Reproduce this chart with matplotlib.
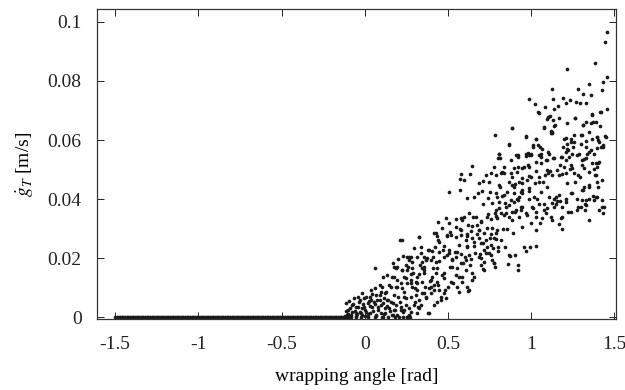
import matplotlib
matplotlib.use("Agg")
import matplotlib.pyplot as plt

plt.rcParams['font.family'] = ['Liberation Serif', 'DejaVu Serif']
plt.rcParams['mathtext.fontset'] = 'stix'

# points lying on zero (slack phase)
zero_x = [-1.50, -1.49, -1.48, -1.47, -1.46, -1.45, -1.44, -1.43, -1.42, -1.41,
          -1.40, -1.39, -1.38, -1.37, -1.36, -1.35, -1.34, -1.33, -1.32, -1.31,
          -1.30, -1.29, -1.28, -1.27, -1.26, -1.25, -1.24, -1.23, -1.22, -1.21,
          -1.20, -1.19, -1.18, -1.17, -1.16, -1.15, -1.14, -1.13, -1.12, -1.11,
          -1.10, -1.09, -1.08, -1.07, -1.06, -1.05, -1.04, -1.03, -1.02, -1.01,
          -1.00, -0.99, -0.98, -0.97, -0.96, -0.95, -0.94, -0.93, -0.92, -0.91,
          -0.90, -0.89, -0.88, -0.87, -0.86, -0.85, -0.84, -0.83, -0.82, -0.81,
          -0.80, -0.79, -0.78, -0.77, -0.76, -0.75, -0.74, -0.73, -0.72, -0.71,
          -0.70, -0.69, -0.68, -0.67, -0.66, -0.65, -0.64, -0.63, -0.62, -0.61,
          -0.60, -0.59, -0.58, -0.57, -0.56, -0.55, -0.54, -0.53, -0.52, -0.51,
          -0.50, -0.49, -0.48, -0.47, -0.46, -0.45, -0.44, -0.43, -0.42, -0.41,
          -0.40, -0.39, -0.38, -0.37, -0.36, -0.35, -0.34, -0.33, -0.32, -0.31,
          -0.30, -0.29, -0.28, -0.27, -0.26, -0.25, -0.24, -0.23, -0.22, -0.21,
          -0.20, -0.19, -0.18, -0.17, -0.16, -0.15, -0.14, -0.13, -0.12, -0.11,
          -0.10, -0.08, -0.05, -0.02, 0.02, 0.06, 0.11, 0.14, 0.18, 0.23, 0.27]
zero_y = [0.0] * len(zero_x)

# sliding cloud, first reading (whole chart)
angle_a = [1.458, 1.446, 1.386, 1.216, 1.458, 1.434, 1.424, 1.350, 1.281, 1.123,
           1.360, 1.314, 1.190, 1.132, 0.989, 1.025, 1.231, 1.269, 1.209, 1.329,
           1.293, 1.159, 1.137, 1.085, 1.116, 1.046, 1.458, 1.412, 1.262, 1.365,
           1.312, 1.331, 1.374, 1.348, 1.396, 1.417, 1.075, 1.094, 1.137, 0.886,
           1.125, 1.120, 0.783, 0.970, 1.027, 1.298, 1.446, 1.240, 1.207, 1.405,
           1.259, 1.302, 0.867, 1.192, 1.254, 1.333, 1.396, 1.434, 1.010, 1.056,
           1.350, 1.223, 1.099, 1.185, 1.274, 0.807, 0.979, 1.001, 1.058, 0.919,
           1.132, 1.317, 0.804, 1.096, 1.209, 0.972, 1.401, 1.369, 1.175, 1.243,
           1.396, 1.377, 0.644, 0.840, 0.780, 0.919, 0.984, 1.032, 0.955, 1.319,
           1.233, 1.154, 1.113, 1.185, 1.281, 1.386, 1.085, 0.761, 0.730, 0.819,
           0.879, 0.579, 0.630, 0.599, 0.508, 0.572, 0.943, 0.986, 1.022, 1.073,
           0.903, 0.747, 0.713, 0.814, 0.687, 0.754, 0.706, 0.790, 0.838, 0.900,
           0.943, 0.986, 1.061, 1.108, 1.166, 1.238, 1.211, 1.310, 1.348, 1.405,
           1.398, 1.372, 1.305, 1.298, 1.322, 1.350, 1.427, 1.434, 1.429, 1.389,
           1.171, 1.128, 1.094, 1.010, 0.938, 0.922, 0.867, 0.807, 0.843, 0.682,
           0.654, 0.740, 0.764, 0.713, 0.613, 0.572, 0.599, 0.627, 0.666, 0.701,
           0.740, 0.785, 0.797, 0.850, 0.903, 0.970, 1.032, 1.065, 1.180, 1.223,
           1.281, 1.326, 0.926, 0.888, 0.857, 0.831, 0.893, 0.946, 1.001, 1.027,
           1.051, 1.166, 1.187, 1.123, 0.821, 0.790, 0.754, 0.687, 0.646, 0.615,
           0.575, 0.548, 0.496, 0.467, 0.438, 0.443, 0.512, 0.584, 0.654, 0.713,
           0.615, 0.716, 0.800, 0.749, 0.773, 0.843, 0.960, 1.032, 0.996, 0.967,
           0.903, 0.874, 0.718, 0.776, 0.685, 0.663, 0.634, 0.603, 0.577, 0.543,
           0.505, 0.527, 0.469, 0.448, 0.412, 0.383, 0.376, 0.340, 0.347, 0.316,
           0.297, 0.268, 0.249, 0.215, 0.328, 0.419, 0.424, 0.476, 0.515, 0.555,
           0.591, 0.711, 0.783, 0.862, 0.919, 0.642, 0.615, 0.567, 0.622, 0.531,
           0.503, 0.481, 0.441, 0.429, 0.393, 0.362, 0.400, 0.457, 0.433, 0.366,
           0.342, 0.304, 0.316, 0.290, 0.263, 0.225, 0.192, 0.175, 0.148, 0.189,
           0.220, 0.256, 0.280, 0.235, 0.201, 0.168, 0.215, 0.247, 0.280, 0.304,
           0.316, 0.266, 0.383, 0.321, 0.122, 0.101, 0.089, 0.136, 0.065, 0.060,
           0.108, 0.136, 0.172, 0.201, 0.232, 0.333, 0.357, 0.328, 0.409, 0.036,
           0.029, 0.017, -0.002, -0.019, -0.043, -0.062, -0.007, 0.041, 0.077, 0.124,
           0.172, 0.208, 0.256, 0.101, 0.065, 0.029, -0.031, -0.019, -0.055, -0.079,
           -0.103, -0.108, -0.086, -0.050, -0.079, -0.113, -0.036, 0.005, 0.053, 0.096,
           0.113, 0.148, 0.184, 0.232, 0.220, 0.867, 0.919]
slip_a = [0.0966, 0.0932, 0.0859, 0.0840, 0.0812, 0.0797, 0.0769, 0.0788, 0.0772, 0.0771,
          0.0752, 0.0755, 0.0743, 0.0738, 0.0738, 0.0722, 0.0735, 0.0729, 0.0725, 0.0726,
          0.0724, 0.0715, 0.0705, 0.0713, 0.0681, 0.0693, 0.0706, 0.0696, 0.0676, 0.0687,
          0.0651, 0.0660, 0.0662, 0.0628, 0.0611, 0.0647, 0.0639, 0.0670, 0.0648, 0.0639,
          0.0622, 0.0630, 0.0616, 0.0611, 0.0603, 0.0617, 0.0613, 0.0602, 0.0607, 0.0600,
          0.0594, 0.0585, 0.0583, 0.0578, 0.0577, 0.0575, 0.0572, 0.0575, 0.0577, 0.0575,
          0.0560, 0.0566, 0.0560, 0.0543, 0.0548, 0.0552, 0.0555, 0.0549, 0.0543, 0.0548,
          0.0539, 0.0537, 0.0540, 0.0532, 0.0534, 0.0546, 0.0523, 0.0521, 0.0514, 0.0515,
          0.0510, 0.0501, 0.0513, 0.0510, 0.0510, 0.0510, 0.0515, 0.0496, 0.0507, 0.0504,
          0.0501, 0.0498, 0.0495, 0.0485, 0.0483, 0.0481, 0.0481, 0.0487, 0.0483, 0.0487,
          0.0487, 0.0485, 0.0486, 0.0464, 0.0425, 0.0469, 0.0472, 0.0478, 0.0453, 0.0458,
          0.0450, 0.0457, 0.0460, 0.0442, 0.0453, 0.0425, 0.0428, 0.0419, 0.0414, 0.0422,
          0.0419, 0.0426, 0.0425, 0.0408, 0.0414, 0.0419, 0.0401, 0.0431, 0.0448, 0.0442,
          0.0459, 0.0410, 0.0397, 0.0374, 0.0383, 0.0329, 0.0374, 0.0352, 0.0397, 0.0406,
          0.0392, 0.0386, 0.0369, 0.0369, 0.0374, 0.0397, 0.0380, 0.0391, 0.0388, 0.0419,
          0.0407, 0.0404, 0.0388, 0.0383, 0.0404, 0.0431, 0.0340, 0.0352, 0.0340, 0.0326,
          0.0349, 0.0352, 0.0336, 0.0352, 0.0356, 0.0352, 0.0355, 0.0335, 0.0335, 0.0356,
          0.0374, 0.0363, 0.0340, 0.0329, 0.0299, 0.0298, 0.0284, 0.0304, 0.0318, 0.0295,
          0.0320, 0.0315, 0.0298, 0.0329, 0.0262, 0.0284, 0.0269, 0.0295, 0.0309, 0.0282,
          0.0298, 0.0273, 0.0278, 0.0303, 0.0324, 0.0262, 0.0290, 0.0331, 0.0256, 0.0250,
          0.0241, 0.0229, 0.0225, 0.0216, 0.0233, 0.0237, 0.0239, 0.0241, 0.0239, 0.0225,
          0.0211, 0.0207, 0.0188, 0.0183, 0.0203, 0.0216, 0.0177, 0.0203, 0.0183, 0.0220,
          0.0216, 0.0194, 0.0228, 0.0192, 0.0205, 0.0228, 0.0200, 0.0216, 0.0188, 0.0205,
          0.0233, 0.0205, 0.0177, 0.0262, 0.0271, 0.0284, 0.0239, 0.0149, 0.0171, 0.0166,
          0.0183, 0.0162, 0.0171, 0.0180, 0.0177, 0.0126, 0.0104, 0.0138, 0.0090, 0.0115,
          0.0104, 0.0092, 0.0108, 0.0149, 0.0124, 0.0104, 0.0081, 0.0070, 0.0052, 0.0064,
          0.0081, 0.0098, 0.0115, 0.0149, 0.0171, 0.0160, 0.0171, 0.0138, 0.0109, 0.0104,
          0.0115, 0.0115, 0.0126, 0.0087, 0.0070, 0.0047, 0.0053, 0.0064, 0.0070, 0.0053,
          0.0014, 0.0030, 0.0014, 0.0036, 0.0081, 0.0104, 0.0059, 0.0059, 0.0076, 0.0168,
          0.0138, 0.0143, 0.0183, 0.0196, 0.0209, 0.0177, 0.0160, 0.0147, 0.0166, 0.0092,
          0.0070, 0.0047, 0.0064, 0.0081, 0.0070, 0.0064, 0.0036, 0.0036, 0.0025, 0.0014,
          0.0008, 0.0002, 0.0002, 0.0002, 0.0008, 0.0014, 0.0019, 0.0008, 0.0014, 0.0019,
          0.0025, 0.0008, 0.0002, 0.0036, 0.0042, 0.0047, 0.0053, 0.0019, 0.0053, 0.0042,
          0.0064, 0.0030, 0.0025, 0.0019, 0.0036, 0.0211, 0.0160]

# second reading, lower middle band (angle 0.15 .. 0.8)
angle_b = [0.487, 0.507, 0.547, 0.577, 0.653, 0.737, 0.757, 0.787, 0.621, 0.673,
           0.701, 0.547, 0.577, 0.637, 0.687, 0.737, 0.767, 0.797, 0.581, 0.617,
           0.673, 0.717, 0.757, 0.787, 0.427, 0.437, 0.497, 0.521, 0.607, 0.647,
           0.687, 0.727, 0.777, 0.801, 0.327, 0.337, 0.447, 0.477, 0.567, 0.617,
           0.657, 0.697, 0.737, 0.757, 0.227, 0.387, 0.407, 0.447, 0.507, 0.557,
           0.577, 0.627, 0.694, 0.727, 0.697, 0.757, 0.767, 0.777, 0.257, 0.267,
           0.277, 0.287, 0.357, 0.367, 0.397, 0.427, 0.477, 0.497, 0.527, 0.547,
           0.607, 0.637, 0.177, 0.187, 0.227, 0.257, 0.287, 0.347, 0.357, 0.437,
           0.527, 0.607, 0.697, 0.717, 0.167, 0.237, 0.247, 0.277, 0.317, 0.357,
           0.407, 0.467, 0.477, 0.547, 0.587, 0.647, 0.657, 0.197, 0.277, 0.307,
           0.347, 0.397, 0.417, 0.437, 0.517, 0.557, 0.587, 0.627, 0.157, 0.197,
           0.227, 0.287, 0.317, 0.357, 0.387, 0.397, 0.417, 0.447, 0.477, 0.567,
           0.177, 0.237, 0.307, 0.327, 0.367, 0.457, 0.487, 0.157, 0.187, 0.247,
           0.297, 0.337, 0.417, 0.177, 0.217, 0.277, 0.327, 0.167, 0.197, 0.257,
           0.267, 0.387, 0.237]
slip_b = [0.0335, 0.0318, 0.0332, 0.0337, 0.0340, 0.0340, 0.0332, 0.0344, 0.0312, 0.0312,
          0.0321, 0.0307, 0.0295, 0.0292, 0.0295, 0.0301, 0.0303, 0.0295, 0.0278, 0.0276,
          0.0281, 0.0287, 0.0281, 0.0265, 0.0284, 0.0276, 0.0276, 0.0278, 0.0261, 0.0267,
          0.0267, 0.0261, 0.0267, 0.0239, 0.0273, 0.0239, 0.0256, 0.0242, 0.0245, 0.0239,
          0.0242, 0.0250, 0.0239, 0.0245, 0.0261, 0.0228, 0.0224, 0.0222, 0.0228, 0.0220,
          0.0213, 0.0211, 0.0213, 0.0216, 0.0202, 0.0211, 0.0194, 0.0183, 0.0205, 0.0194,
          0.0205, 0.0188, 0.0205, 0.0194, 0.0194, 0.0188, 0.0205, 0.0211, 0.0199, 0.0205,
          0.0194, 0.0199, 0.0171, 0.0166, 0.0160, 0.0160, 0.0166, 0.0166, 0.0171, 0.0166,
          0.0171, 0.0160, 0.0177, 0.0160, 0.0138, 0.0138, 0.0134, 0.0145, 0.0138, 0.0149,
          0.0138, 0.0143, 0.0132, 0.0143, 0.0138, 0.0149, 0.0138, 0.0126, 0.0115, 0.0121,
          0.0121, 0.0126, 0.0109, 0.0121, 0.0121, 0.0104, 0.0121, 0.0092, 0.0104, 0.0104,
          0.0098, 0.0104, 0.0092, 0.0081, 0.0098, 0.0104, 0.0092, 0.0092, 0.0081, 0.0087,
          0.0076, 0.0070, 0.0076, 0.0059, 0.0070, 0.0059, 0.0064, 0.0053, 0.0042, 0.0042,
          0.0042, 0.0042, 0.0042, 0.0025, 0.0025, 0.0019, 0.0030, 0.0008, 0.0008, 0.0002,
          0.0008, 0.0014, 0.0025]

# third reading, upper right part (angle 0.78 .. 1.45)
angle_c = [1.041, 1.103, 1.131, 1.143, 1.167, 1.217, 1.267, 1.311, 1.358, 1.368,
           1.388, 1.418, 0.883, 1.077, 1.117, 1.123, 0.967, 1.031, 1.197, 1.217,
           1.243, 1.257, 1.304, 1.328, 1.368, 1.398, 1.408, 1.418, 1.432, 1.448,
           0.867, 1.011, 1.043, 1.067, 1.107, 0.807, 0.811, 0.907, 0.923, 0.971,
           0.987, 0.997, 1.047, 1.057, 1.087, 1.137, 1.177, 1.207, 1.217, 1.227,
           1.247, 1.287, 1.307, 1.328, 1.338, 1.358, 1.378, 1.388, 1.408, 0.877,
           0.897, 0.917, 0.947, 0.987, 1.027, 1.057, 1.097, 1.103, 1.197, 1.247,
           1.257, 1.307, 1.348, 0.787, 0.827, 0.837, 0.867, 0.883, 0.927, 0.947,
           0.977, 0.997, 1.047, 1.047, 1.097, 1.127, 1.167, 1.207, 1.217, 1.267,
           1.297, 1.318, 1.348, 1.388, 1.428, 0.807, 0.857, 0.887, 0.897, 0.937,
           0.947, 0.987, 1.017, 1.037, 1.047, 1.077, 1.137, 1.147, 1.157, 1.187,
           1.207, 1.247, 1.277, 1.307, 1.328, 1.378, 1.398, 1.438, 0.797, 0.827,
           0.847, 0.877, 0.897, 0.917, 0.927, 0.937, 0.947, 0.987, 1.007, 1.077,
           1.087, 1.117, 1.137, 1.147, 1.187, 1.237, 1.277, 1.328, 1.348, 1.408,
           0.787, 0.807, 0.817, 0.837, 0.867, 0.887, 0.907, 0.977, 1.027]
slip_c = [0.0695, 0.0678, 0.0667, 0.0650, 0.0673, 0.0658, 0.0676, 0.0650, 0.0656, 0.0684,
          0.0662, 0.0695, 0.0639, 0.0645, 0.0622, 0.0628, 0.0613, 0.0602, 0.0602, 0.0588,
          0.0594, 0.0616, 0.0616, 0.0597, 0.0605, 0.0611, 0.0594, 0.0577, 0.0583, 0.0611,
          0.0586, 0.0583, 0.0583, 0.0571, 0.0554, 0.0554, 0.0538, 0.0549, 0.0543, 0.0554,
          0.0549, 0.0554, 0.0549, 0.0554, 0.0532, 0.0538, 0.0543, 0.0560, 0.0571, 0.0543,
          0.0554, 0.0554, 0.0532, 0.0538, 0.0554, 0.0566, 0.0554, 0.0521, 0.0526, 0.0532,
          0.0504, 0.0493, 0.0504, 0.0509, 0.0526, 0.0521, 0.0498, 0.0487, 0.0509, 0.0504,
          0.0487, 0.0515, 0.0493, 0.0481, 0.0493, 0.0487, 0.0459, 0.0476, 0.0459, 0.0453,
          0.0464, 0.0476, 0.0476, 0.0459, 0.0442, 0.0481, 0.0481, 0.0487, 0.0453, 0.0459,
          0.0476, 0.0442, 0.0442, 0.0481, 0.0464, 0.0447, 0.0425, 0.0447, 0.0442, 0.0425,
          0.0431, 0.0436, 0.0408, 0.0402, 0.0385, 0.0385, 0.0402, 0.0408, 0.0394, 0.0374,
          0.0391, 0.0419, 0.0402, 0.0431, 0.0397, 0.0397, 0.0408, 0.0374, 0.0408, 0.0410,
          0.0374, 0.0397, 0.0391, 0.0402, 0.0408, 0.0363, 0.0374, 0.0402, 0.0374, 0.0363,
          0.0352, 0.0340, 0.0374, 0.0385, 0.0340, 0.0357, 0.0363, 0.0380, 0.0402, 0.0363,
          0.0363, 0.0369, 0.0352, 0.0346, 0.0340, 0.0357, 0.0363, 0.0346, 0.0340]

# fourth reading, onset of sliding near zero angle
angle_d = [-0.100, -0.090, -0.080, -0.070, -0.060, -0.050, -0.040, -0.030, -0.020, -0.010,
           0.000, 0.010, 0.020, 0.030, 0.040, 0.050, 0.060, 0.070, 0.080, 0.090,
           0.100, 0.110, 0.120, 0.130, 0.140, 0.150, -0.110, -0.120, -0.095, 0.045,
           0.075, 0.025, -0.015, 0.115, 0.135, 0.000, -0.045, 0.060, 0.090, 0.100]
slip_d = [0.0010, 0.0030, 0.0008, 0.0045, 0.0020, 0.0005, 0.0035, 0.0060, 0.0015, 0.0045,
          0.0025, 0.0070, 0.0010, 0.0040, 0.0060, 0.0020, 0.0045, 0.0005, 0.0035, 0.0075,
          0.0015, 0.0050, 0.0030, 0.0085, 0.0060, 0.0020, 0.0020, 0.0005, 0.0055, 0.0080,
          0.0060, 0.0055, 0.0030, 0.0010, 0.0040, 0.0005, 0.0010, 0.0100, 0.0110, 0.0085]

angle = angle_a + angle_b + angle_c + angle_d
slip = slip_a + slip_b + slip_c + slip_d

x_ticks = [-1.5, -1, -0.5, 0, 0.5, 1, 1.5]
x_tick_labels = ['-1.5', '-1', '-0.5', '0', '0.5', '1', '1.5']
y_ticks = [0, 0.02, 0.04, 0.06, 0.08, 0.1]
y_tick_labels = ['0', '0.02', '0.04', '0.06', '0.08', '0.1']

fig = plt.figure(figsize=(6.25, 3.9), dpi=100)
ax = fig.add_axes([0.155, 0.181, 0.831, 0.795])

ax.scatter(zero_x, zero_y, s=7, c='#1a1a1a', linewidths=0, clip_on=False)
ax.scatter(angle, slip, s=7, c='#1a1a1a', linewidths=0)

ax.set_xlim(-1.61, 1.512)
ax.set_ylim(-0.0007, 0.1042)
ax.set_xticks(x_ticks)
ax.set_xticklabels(x_tick_labels)
ax.set_yticks(y_ticks)
ax.set_yticklabels(y_tick_labels)
ax.tick_params(direction='in', length=5, width=0.7, top=True, right=True,
               labelsize=14, colors='#222222')
ax.tick_params(axis='x', pad=12)
ax.tick_params(axis='y', pad=11)

for sp in ax.spines.values():
    sp.set_linewidth(0.9)
    sp.set_color('#333333')

ax.set_xlabel('wrapping angle [rad]', fontsize=14, labelpad=11)
ax.set_ylabel(r'$\dot{g}_T$ [m/s]', fontsize=14, labelpad=8)

fig.savefig('out.png', dpi=100)
